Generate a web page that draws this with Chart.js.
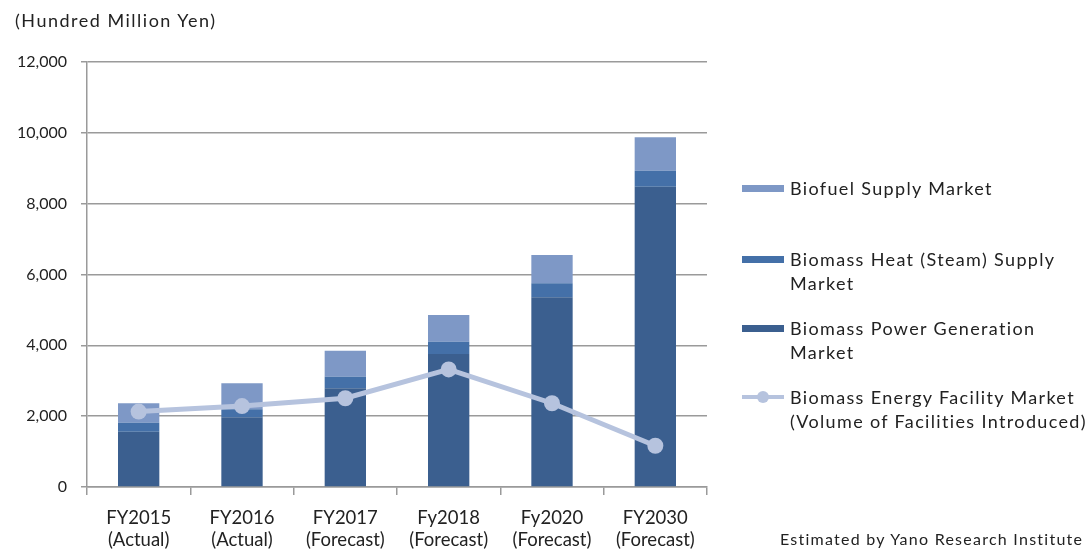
<!DOCTYPE html>
<html>
<head>
<meta charset="utf-8">
<script src="https://cdn.jsdelivr.net/npm/chart.js@4"></script>
<style>
  html, body { margin: 0; padding: 0; background: #fff; }
  #wrap { position: relative; width: 1092px; height: 550px; font-family: "Lato", "DejaVu Sans", sans-serif; color: #222; }
  canvas { position: absolute; left: 0; top: 0; }
  #unit { position: absolute; left: 15px; top: 9px; font-size: 18px; letter-spacing: 1.5px; }
  #source { position: absolute; left: 780px; top: 529px; font-size: 16px; letter-spacing: 1.25px; white-space: nowrap; }
  #legend { position: absolute; left: 742px; top: 0; font-size: 18px; letter-spacing: 1.35px; }
  .li { position: absolute; left: 0; width: 360px; }
  .sw { position: absolute; left: 0; width: 42px; height: 7px; }
  .tx { position: absolute; left: 48px; line-height: 24px; white-space: nowrap; }
</style>
</head>
<body>
<div id="wrap">
  <canvas id="c" width="1092" height="550"></canvas>
  <div id="unit">(Hundred Million Yen)</div>
  <div id="source">Estimated by Yano Research Institute</div>
  <div id="legend"></div>
</div>
<script>
const categories = [["FY2015","(Actual)"],["FY2016","(Actual)"],["FY2017","(Forecast)"],["Fy2018","(Forecast)"],["Fy2020","(Forecast)"],["FY2030","(Forecast)"]];
const powerGeneration = [1560, 1970, 2785, 3755, 5355, 8480];
const heatSupply = [255, 225, 330, 345, 395, 450];
const biofuelSupply = [550, 735, 735, 755, 800, 945];
const facilityMarket = [2130, 2285, 2505, 3320, 2365, 1165];
const yTicks = [0, 2000, 4000, 6000, 8000, 10000, 12000];

const colors = { biofuel: "#7e98c6", heat: "#4470a8", power: "#3b5f8f", line: "#b6c3de" };
const legendItems = [
  { text: ["Biofuel Supply Market"], color: colors.biofuel, y: 188, type: "bar" },
  { text: ["Biomass Heat (Steam) Supply", "Market"], color: colors.heat, y: 259, type: "bar" },
  { text: ["Biomass Power Generation", "Market"], color: colors.power, y: 328, type: "bar" },
  { text: ["Biomass Energy Facility Market", "(Volume of Facilities Introduced)"], color: colors.line, y: 397, type: "line" }
];

const leg = document.getElementById("legend");
legendItems.forEach(it => {
  const d = document.createElement("div");
  d.className = "li";
  d.style.top = (it.y - 12) + "px";
  let sw;
  if (it.type === "bar") {
    sw = '<div class="sw" style="top:9px;background:' + it.color + '"></div>';
  } else {
    sw = '<div class="sw" style="top:10px;height:4px;background:' + it.color + '"></div>' +
         '<div style="position:absolute;left:15px;top:6px;width:12px;height:12px;border-radius:6px;background:' + it.color + '"></div>';
  }
  d.innerHTML = sw + '<div class="tx" style="top:0">' + it.text.join("<br>") + '</div>';
  leg.appendChild(d);
});

const FONT = "'Lato', 'DejaVu Sans', sans-serif";
new Chart(document.getElementById("c"), {
  data: {
    labels: categories,
    datasets: [
      { type: "line", label: "Biomass Energy Facility Market (Volume of Facilities Introduced)", data: facilityMarket,
        borderColor: colors.line, backgroundColor: colors.line, borderWidth: 5, pointRadius: 8, pointBackgroundColor: colors.line,
        pointBorderWidth: 0, order: 0, tension: 0, yAxisID: "y" },
      { type: "bar", label: "Biomass Power Generation Market", data: powerGeneration, backgroundColor: colors.power, order: 1, stack: "s" },
      { type: "bar", label: "Biomass Heat (Steam) Supply Market", data: heatSupply, backgroundColor: colors.heat, order: 1, stack: "s" },
      { type: "bar", label: "Biofuel Supply Market", data: biofuelSupply, backgroundColor: colors.biofuel, order: 1, stack: "s" }
    ]
  },
  options: {
    responsive: false,
    animation: false,
    devicePixelRatio: 1,
    layout: { padding: { left: 0, right: 385, top: 62, bottom: 0 } },
    plugins: { legend: { display: false }, tooltip: { enabled: false } },
    datasets: { bar: { categoryPercentage: 0.4, barPercentage: 1 } },
    scales: {
      x: {
        stacked: true,
        offset: true,
        grid: { offset: true, drawOnChartArea: false, drawTicks: true, tickLength: 8, color: "#9a9a9a", lineWidth: 1.5 },
        border: { color: "#9a9a9a", width: 1.5 },
        ticks: { color: "#222", font: { family: FONT, size: 18.5 }, padding: 12, maxRotation: 0, autoSkip: false },
        afterFit: s => { s.height = 63; }
      },
      y: {
        stacked: true,
        min: 0, max: 12000,
        afterBuildTicks: s => { s.ticks = yTicks.map(v => ({ value: v })); },
        grid: { color: "#9a9a9a", lineWidth: 1.5, tickLength: 6 },
        border: { color: "#9a9a9a", width: 1.5 },
        ticks: { color: "#222", font: { family: FONT, size: 16 }, padding: 14,
                 callback: v => v.toLocaleString("en-US") },
        afterFit: s => { s.width = 87; }
      }
    }
  }
});
</script>
</body>
</html>
